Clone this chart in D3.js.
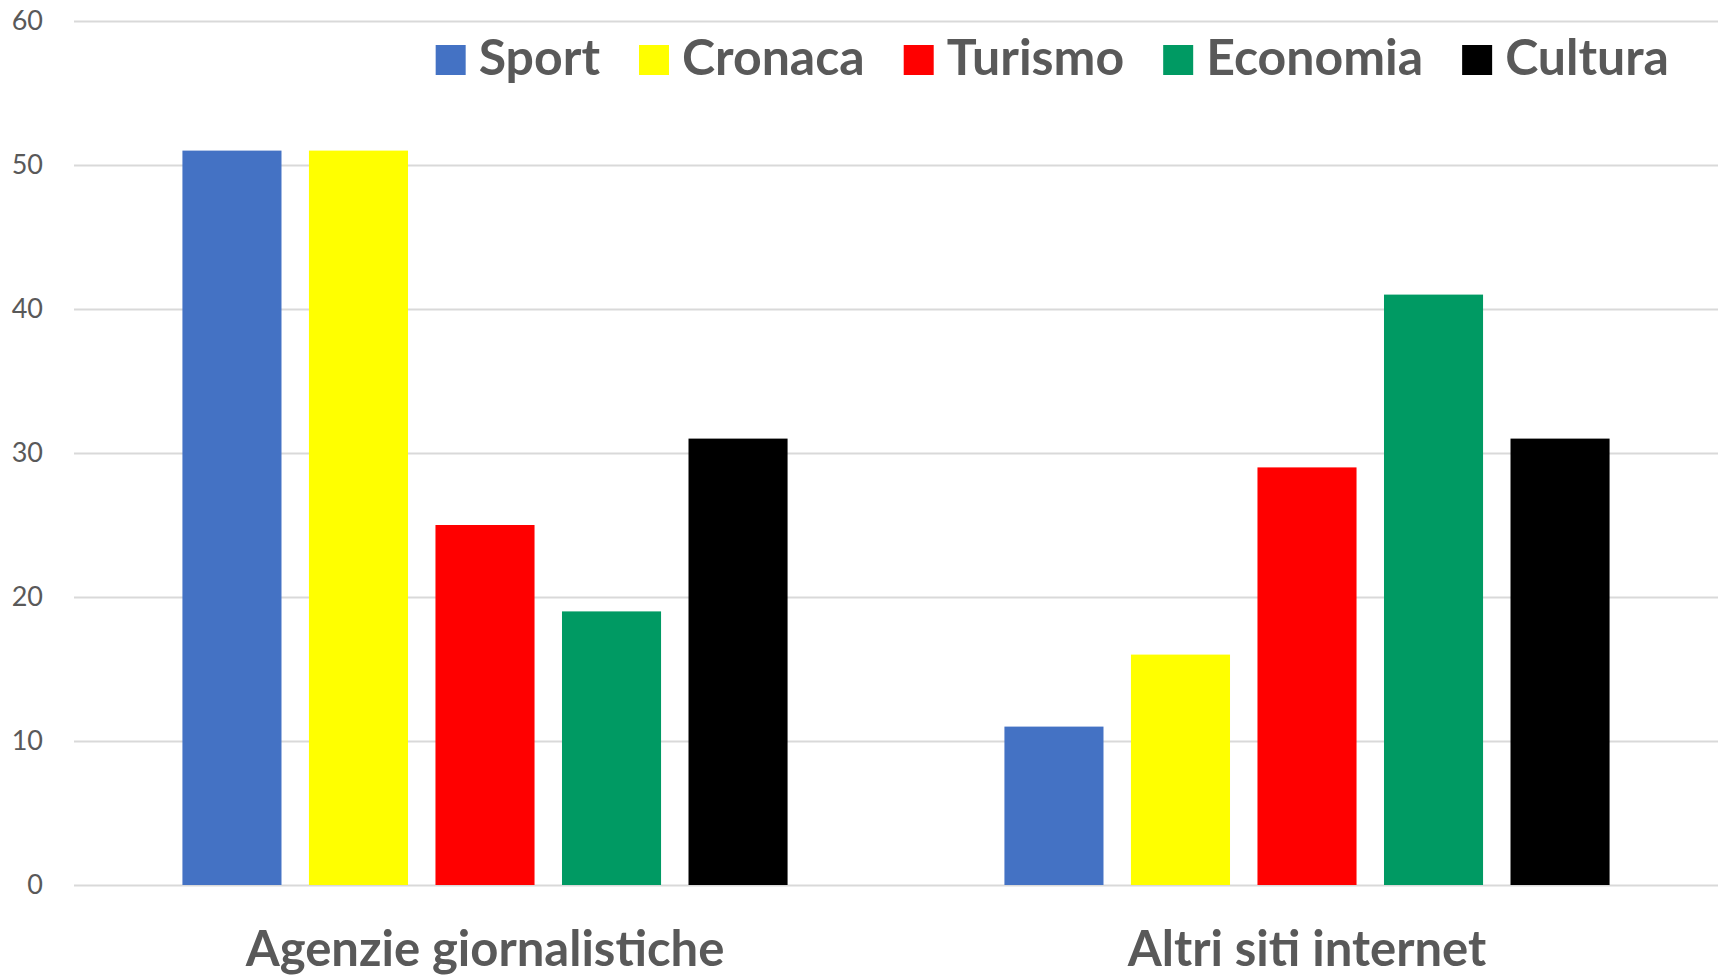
<!DOCTYPE html>
<html lang="it">
<head>
    <meta charset="utf-8">
    <title>Agenzie vs siti</title>
    <script src="https://d3js.org/d3.v7.min.js"></script>
    <style>
        body { margin: 0; background: #fff; }
        text { font-family: Lato, "Open Sans", sans-serif; fill: #595959; }
    </style>
</head>
<body>
<script>
    const categories = ['Agenzie giornalistiche', 'Altri siti internet'];
    const series = ['Sport', 'Cronaca', 'Turismo', 'Economia', 'Cultura'];
    const colors = ['#4472C4', '#FFFF00', '#FF0000', '#009A63', '#000000'];
    const agenzieValues = [51, 51, 25, 19, 31];
    const altriValues = [11, 16, 29, 41, 31];
    const yTicks = [0, 10, 20, 30, 40, 50, 60];

    const values = [agenzieValues, altriValues];
    const data = categories.map((c, i) => ({
        cat: c,
        vals: series.map((s, j) => ({ s: s, v: values[i][j] }))
    }));

    const W = 1727, H = 978;
    const svg = d3.select('body').append('svg').attr('width', W).attr('height', H);

    const x0 = d3.scaleBand().domain(categories).range([74, 1718]).padding(0);
    const x1 = d3.scaleBand().domain(series).range([0, x0.bandwidth()])
            .paddingInner(0.217).paddingOuter(0.857);
    const y = d3.scaleLinear().domain([0, 60]).range([885, 21]);
    const color = d3.scaleOrdinal().domain(series).range(colors);

    // gridlines + tick labels
    const yAxis = d3.axisLeft(y).tickValues(yTicks).tickSize(-(1718 - 74)).tickPadding(31);
    const gy = svg.append('g').attr('transform', 'translate(74,0)').call(yAxis);
    gy.select('.domain').remove();
    gy.selectAll('.tick line').attr('stroke', '#D9D9D9').attr('stroke-width', 2);
    gy.selectAll('.tick text').style('font-size', '27px').attr('fill', '#595959')
            .style('font-family', 'Lato, "Open Sans", sans-serif');

    // bars
    svg.append('g').selectAll('g').data(data).enter().append('g')
            .attr('transform', d => `translate(${x0(d.cat)},0)`)
            .selectAll('rect').data(d => d.vals).enter().append('rect')
            .attr('x', d => x1(d.s))
            .attr('width', x1.bandwidth())
            .attr('y', d => y(d.v))
            .attr('height', d => y(0) - y(d.v))
            .attr('fill', d => color(d.s));

    // category labels (nudged up a bit so descenders stay on the page)
    svg.append('g').selectAll('text').data(categories).enter().append('text')
            .attr('x', d => x0(d) + x0.bandwidth() / 2)
            .attr('y', 966)
            .attr('text-anchor', 'middle')
            .style('font-size', '49px').style('font-weight', 'bold')
            .text(d => d);

    // legend, right-aligned
    const legend = svg.append('g');
    const items = legend.selectAll('g').data(series).enter().append('g');
    items.append('rect').attr('width', 30).attr('height', 30).attr('y', 45)
            .attr('fill', d => color(d));
    items.append('text').attr('x', 43).attr('y', 75)
            .style('font-size', '50px').style('font-weight', 'bold')
            .text(d => d);
    let xs = [], cur = 0;
    items.each(function () {
        xs.push(cur);
        cur += 43 + d3.select(this).select('text').node().getComputedTextLength() + 39;
    });
    const total = cur - 39;
    const start = 1669 - total;
    items.attr('transform', (d, i) => `translate(${start + xs[i]},0)`);
</script>
</body>
</html>
